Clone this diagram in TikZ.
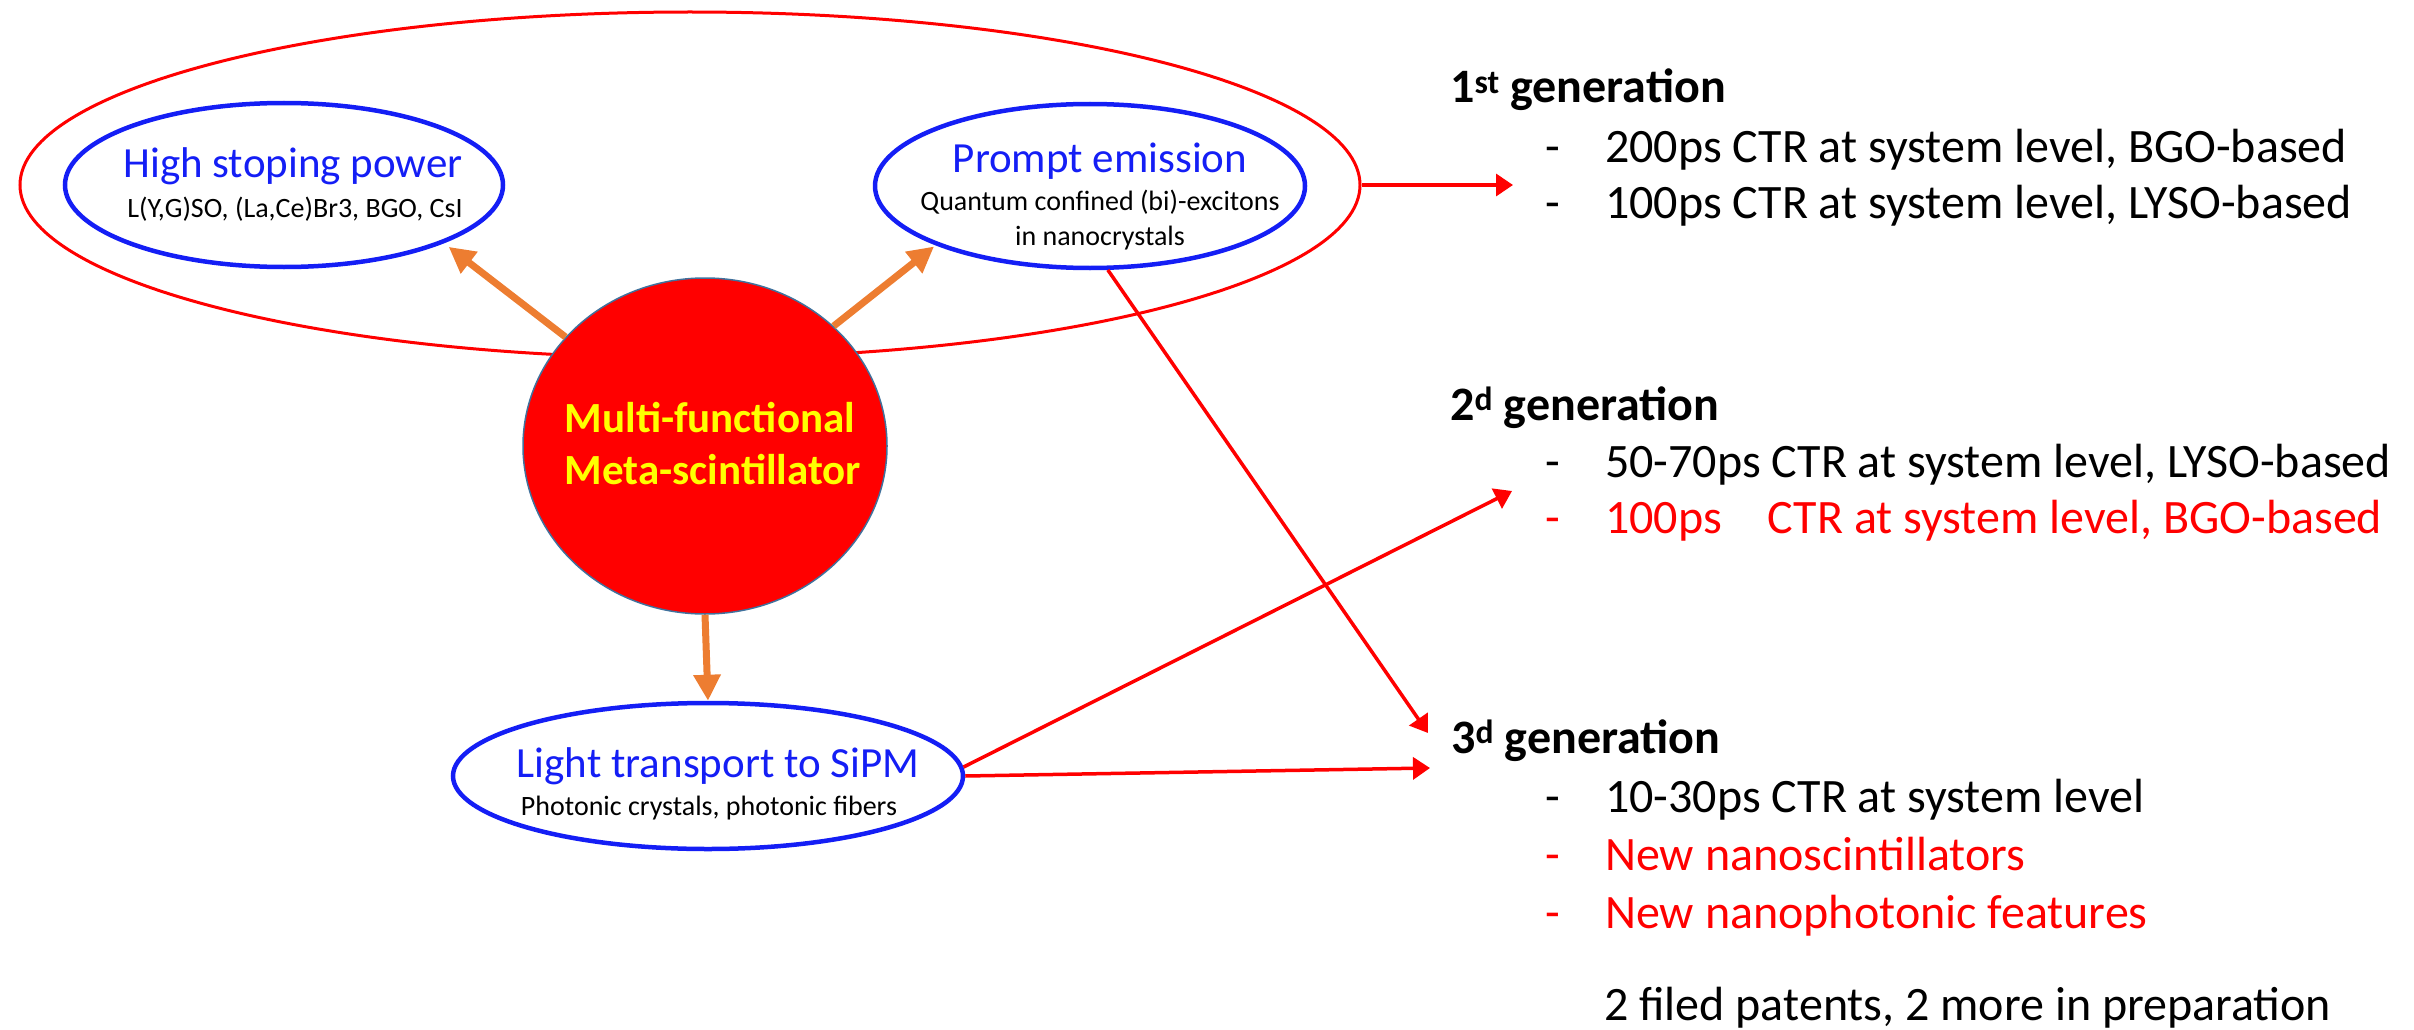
\documentclass[tikz,border=0pt]{standalone}
\usepackage{fontspec}
\setmainfont{Carlito}
\usetikzlibrary{shapes.geometric,arrows.meta}
\definecolor{ellblue}{RGB}{20,30,245}
\definecolor{arrorange}{RGB}{237,125,49}
\definecolor{metared}{RGB}{255,0,0}
\definecolor{rimblue}{RGB}{65,113,156}
\definecolor{metagold}{RGB}{255,255,0}
\tikzset{
  blueell/.style={ellipse,draw=ellblue,line width=4.5pt,inner sep=0},
  titletext/.style={font=\fontsize{43}{52}\selectfont,text=ellblue,anchor=base,inner sep=0},
  subtext/.style={font=\fontsize{28}{34}\selectfont,anchor=base,inner sep=0},
  metatext/.style={font=\fontsize{43}{52}\selectfont\bfseries,text=metagold,anchor=base,inner sep=0},
  gentext/.style={font=\fontsize{48}{57}\selectfont,anchor=base west,inner sep=0},
  genhead/.style={gentext,font=\fontsize{48}{57}\selectfont\bfseries},
  orangearrow/.style={draw=arrorange,line width=7pt,-{Triangle[length=26pt,width=26pt]}},
  redarrow/.style={draw=metared,line width=3.5pt,-{Triangle[length=17pt,width=22pt]}}
}
\newcommand{\genitem}[4]{
  \node[gentext,text=#3] (#1-dash) at (1545,#2) {-};
  \node[gentext,text=#3] (#1) at (1605,#2) {#4};
}

\begin{document}
\begin{tikzpicture}[x=1pt,y=-1pt]
\useasboundingbox (0,0) rectangle (2414,1030);
% ellipses
\node[ellipse,draw=metared,line width=3pt,inner sep=0,minimum width=1340pt,minimum height=346pt] (outer) at (690,185) {};
\node[blueell,minimum width=438pt,minimum height=164pt] (hsp) at (284,185) {};
\node[blueell,minimum width=430pt,minimum height=164pt] (pe) at (1090,186) {};
\node[blueell,minimum width=510pt,minimum height=146pt] (lt) at (708,776) {};
\node[ellipse,fill=metared,draw=rimblue,line width=1.5pt,inner sep=0,minimum width=364pt,minimum height=336pt] (meta) at (705,446) {};
% texts in the ellipses
\node[titletext] (hsp-title) at (293,177) {High stoping power};
\node[subtext] (hsp-sub) at (295,217) {L(Y,G)SO, (La,Ce)Br3, BGO, CsI};
\node[titletext] (pe-title) at (1100,172) {Prompt emission};
\node[subtext] (pe-sub) at (1100,210) {Quantum confined (bi)-excitons};
\node[subtext] (pe-sub2) at (1100,245) {in nanocrystals};
\node[titletext] (lt-title) at (718,777) {Light transport to SiPM};
\node[subtext] (lt-sub) at (709,815) {Photonic crystals, photonic fibers};
\node[metatext] (meta-l1) at (710,432) {Multi-functional};
\node[metatext] (meta-l2) at (713,484) {Meta-scintillator};
% generations
\node[genhead] (gen1) at (1450,103) {1\textsuperscript{st} generation};
\genitem{g1a}{162}{black}{200ps CTR at system level, BGO-based}
\genitem{g1b}{218}{black}{100ps CTR at system level, LYSO-based}
\node[genhead] (gen2) at (1450,420) {2\textsuperscript{d} generation};
\genitem{g2a}{477}{black}{50-70ps CTR at system level, LYSO-based}
\genitem{g2b}{533}{metared}{100ps\hspace{46pt}CTR at system level, BGO-based}
\node[genhead] (gen3) at (1451,753) {3\textsuperscript{d} generation};
\genitem{g3a}{812}{black}{10-30ps CTR at system level}
\genitem{g3b}{870}{metared}{New nanoscintillators}
\genitem{g3c}{928}{metared}{New nanophotonic features}
\node[gentext] (patents) at (1604,1020) {2 filed patents, 2 more in preparation};
% arrow ends
\coordinate (to-g1) at (1513,185);
\coordinate (to-g2) at (1512,491);
\coordinate (to-g3a) at (1428,733);
\coordinate (to-g3b) at (1430,768);
% connectors
\draw[orangearrow,shorten >=6pt] (meta.142) -- (hsp.-20);
\draw[orangearrow,shorten >=2pt] (meta.43) -- (pe.201);
\draw[orangearrow] (meta.south) -- (lt.north);
\draw[redarrow] (outer.east) -- (to-g1);
\draw[redarrow] (pe.-78) -- (to-g3a);
\draw[redarrow] (lt.2) -- (to-g2);
\draw[redarrow] (lt.east) -- (to-g3b);
\end{tikzpicture}
\end{document}
